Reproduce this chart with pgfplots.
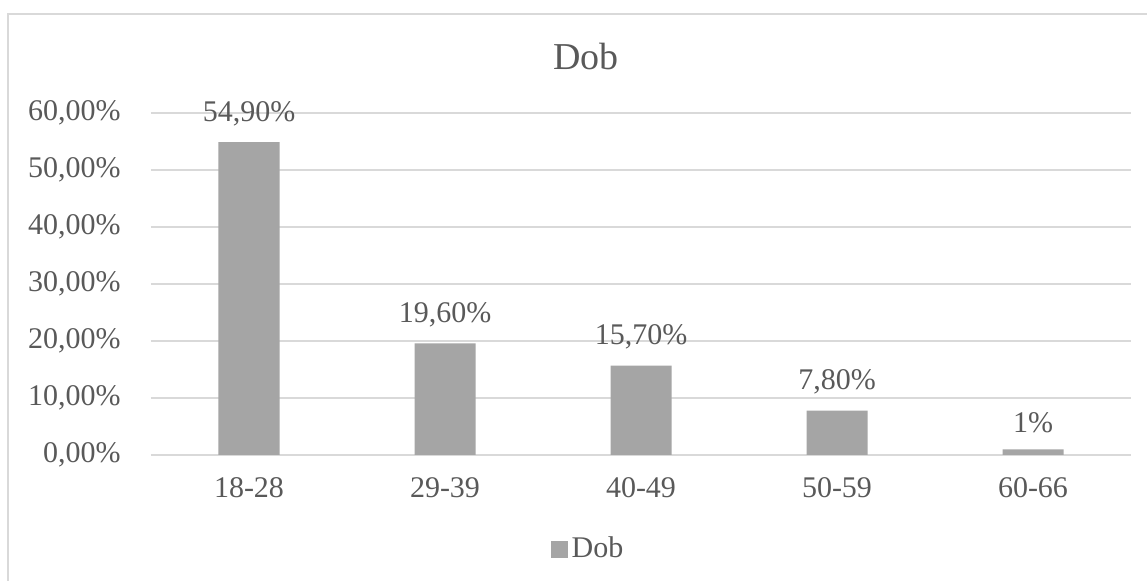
\documentclass[border=0pt]{standalone}
\usepackage{pgfplots}
\pgfplotsset{compat=1.18}
\usepackage{pgfplotstable}
\usepackage{fontspec}
\setmainfont{Liberation Serif}
\definecolor{txt}{HTML}{595959}
\definecolor{grd}{HTML}{D9D9D9}
\definecolor{bar}{HTML}{A5A5A5}

\pgfplotstableread{
x y lab
0 54.9 {54,90\%}
1 19.6 {19,60\%}
2 15.7 {15,70\%}
3 7.8 {7,80\%}
4 1.0 {1\%}
}\dob

\begin{document}
\fontsize{15}{18}\selectfont
\begin{tikzpicture}[x=1pt,y=1pt]
\useasboundingbox (0,0) rectangle (573.5,290.5);
\draw[grd,line width=0.7pt] (4,-2) -- (4,283.5) -- (575,283.5);
\begin{axis}[
  at={(75.5pt,63pt)}, anchor=south west,
  width=490pt, height=171pt, scale only axis,
  xmin=-0.5, xmax=4.5, ymin=0, ymax=60,
  ytick={0,10,...,60},
  xtick=data, xticklabels={18-28,29-39,40-49,50-59,60-66},
  axis line style={draw=none},
  major tick length=0pt,
  ymajorgrids, grid style={grd,line width=0.8pt},
  extra y ticks={0}, extra y tick labels={},
  extra y tick style={grid style={grd,line width=1pt}},
  yticklabel={\pgfmathprintnumber[fixed,fixed zerofill,precision=2,use comma]{\tick}\%},
  /pgf/number format/assume math mode=true,
  ticklabel style={font=\fontsize{15}{18}\selectfont, text=txt},
  yticklabel style={xshift=-10pt},
  xticklabel style={yshift=-6pt},
  clip=false,
  legend style={at={(0.447,-0.275)}, anchor=center, draw=none, fill=none,
    font=\fontsize{15}{18}\selectfont, text=txt, inner sep=0pt},
  legend image code/.code={\fill[#1] (0pt,-4.25pt) rectangle (8.5pt,4.25pt);},
  legend cell align=left,
]
\addplot[ybar, bar width=30.5pt, fill=bar, draw=none,
  nodes near coords, point meta=explicit symbolic,
  every node near coord/.append style={text=txt, font=\fontsize{15}{18}\selectfont, yshift=3pt}]
  table[x=x, y=y, meta=lab] {\dob};
\addlegendentry{Dob}
\node[text=txt, font=\fontsize{19}{22}\selectfont] at (rel axis cs:0.444,1.166) {Dob};
\end{axis}
\end{tikzpicture}
\end{document}
